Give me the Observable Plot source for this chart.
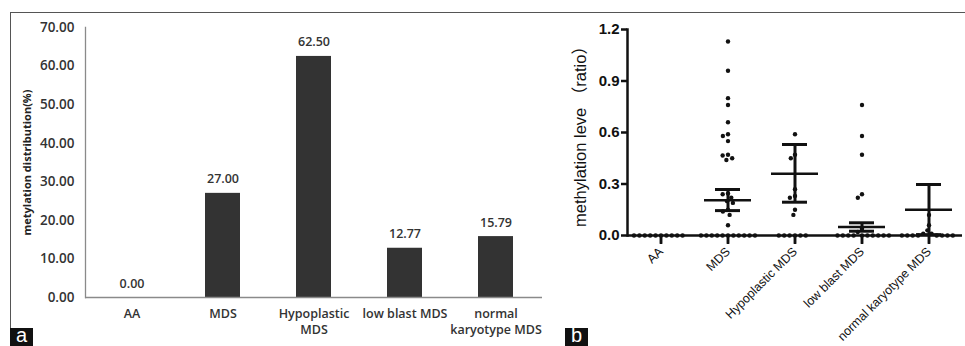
<!DOCTYPE html>
<html><head><meta charset="utf-8">
<script src="https://cdn.jsdelivr.net/npm/d3@7"></script>
<script src="https://cdn.jsdelivr.net/npm/@observablehq/plot@0.6"></script>
<style>
body{margin:0;background:#fff;}
#wrap{position:relative;width:965px;height:346px;overflow:hidden;background:#fff;}
#frame{position:absolute;left:10px;top:12px;width:960px;height:340px;border-top:1px solid #555;border-left:1px solid #555;}
#a,#b{position:absolute;top:0;}
#a{left:0}
#b{left:560px;width:405px;height:346px}
#b svg{position:absolute;left:0;top:0}
#b svg:last-child{z-index:2}
.tag{position:absolute;top:328px;width:23px;height:18px;background:#111;color:#fff;font:20px "Liberation Sans",Arial,sans-serif;line-height:15px;text-align:center;z-index:3;}
</style></head>
<body><div id="wrap"><div id="frame"></div><div id="a"></div><div id="b"></div><div class="tag" style="left:10px">a</div><div class="tag" style="left:565px">b</div></div>
<script>
// ---- Panel a data ----
const categoriesA = ["AA", "MDS", "Hypoplastic MDS", "low blast MDS", "normal karyotype MDS"];
const percentA = [0, 27.00, 62.50, 12.77, 15.79];
const tickLabelsA = ["AA", "MDS", "Hypoplastic\nMDS", "low blast MDS", "normal\nkaryotype MDS"];
const yTicksA = [0, 10, 20, 30, 40, 50, 60, 70];
const yLabelA = "metylation distribution(%)";

// ---- Panel b data ----
const categoriesB = ["AA", "MDS", "Hypoplastic MDS", "low blast MDS", "normal karyotype MDS"];
const valuesAA = [0, 0, 0, 0, 0, 0, 0, 0, 0, 0];
const valuesMDS = [1.13, 0.96, 0.80, 0.76, 0.66, 0.59, 0.58, 0.55, 0.47, 0.466, 0.45, 0.44,
  0.245, 0.24, 0.22, 0.20, 0.19, 0.15, 0.14, 0.12, 0.06, 0, 0, 0, 0, 0, 0, 0, 0, 0, 0, 0];
const valuesHypo = [0.59, 0.47, 0.45, 0.27, 0.23, 0.22, 0.15, 0.12, 0, 0, 0, 0, 0, 0];
const valuesLowBlast = [0.76, 0.58, 0.47, 0.24, 0.22, 0.04, 0.02, 0, 0, 0, 0, 0, 0, 0, 0, 0, 0];
const valuesNormalKaryo = [0.12, 0.06, 0.03, 0.01, 0.01, 0, 0, 0, 0, 0, 0, 0, 0];
const meanB = [0, 0.206, 0.359, 0.049, 0.150];
const upperB = [0, 0.268, 0.530, 0.074, 0.297];
const lowerB = [0, 0.145, 0.194, 0.025, 0.005];
const yTicksB = [0, 0.3, 0.6, 0.9, 1.2];
const yLabelB = "methylation leve （ratio）";

// ---- Panel a ----
const dataA = categoriesA.map((c, i) => ({cat: c, v: percentA[i]}));
const labA = new Map(categoriesA.map((c, i) => [c, tickLabelsA[i]]));
const plotA = Plot.plot({
  width: 560, height: 346,
  marginLeft: 85, marginRight: 18, marginTop: 27, marginBottom: 49,
  style: {fontFamily: "'Open Sans', sans-serif", color: "#333", background: "transparent", overflow: "visible"},
  x: {domain: categoriesA, paddingInner: 0.62, paddingOuter: 0.31, axis: null},
  y: {domain: [0, 70], axis: null},
  marks: [
    Plot.barY(dataA, {x: "cat", y: "v", fill: "#333"}),
    Plot.ruleY([0], {stroke: "#8a8a8a", strokeWidth: 1.3}),
    Plot.frame({anchor: "left", stroke: "#8a8a8a", strokeWidth: 1.3}),
    Plot.axisY({ticks: yTicksA, tickFormat: d3.format(".2f"), tickSize: 0, tickPadding: 11,
      fontSize: 13.5, fontWeight: 600, fill: "#333", label: null}),
    Plot.axisX({tickSize: 0, tickPadding: 9, tickFormat: d => labA.get(d),
      fontSize: 12.5, fontWeight: 600, lineHeight: 1.3, fill: "#333", label: null}),
    Plot.text(dataA, {x: "cat", y: "v", text: d => d3.format(".2f")(d.v), dy: -14,
      fontSize: 12.5, fontWeight: 600, fill: "#333"}),
    Plot.text([yLabelA], {frameAnchor: "left", textAnchor: "middle", rotate: -90, dx: -58,
      fontSize: 11, fontWeight: 700, fill: "#222"})
  ]
});
document.getElementById("a").append(plotA);

// ---- Panel b ----
const groupsB = [valuesAA, valuesMDS, valuesHypo, valuesLowBlast, valuesNormalKaryo];
const dataB = [];
categoriesB.forEach((c, i) => groupsB[i].forEach(v => dataB.push({cat: c, v})));
const allStatsB = categoriesB.map((c, i) => ({cat: c, mean: meanB[i], lo: lowerB[i], hi: upperB[i]}));
const statsB = allStatsB.filter(d => d.hi > 0);
const tickDepthB = -0.05; // category tick marks hang just below the zero line
const dimsB = {width: 405, height: 346, marginLeft: 65, marginRight: 2, marginTop: 29, marginBottom: 111};
const styleB = {fontFamily: "'Liberation Sans', Arial, sans-serif", color: "#111", background: "transparent", overflow: "visible"};

const plotB = Plot.plot({
  ...dimsB, style: styleB,
  fx: {domain: categoriesB, padding: 0, label: null, axis: null},
  y: {domain: [0, 1.2], axis: null},
  marks: [
    Plot.ruleY([0], {stroke: "#111", strokeWidth: 2.5}),
    Plot.frame({anchor: "left", facetAnchor: "left", stroke: "#111", strokeWidth: 2.5}),
    Plot.dot(dataB, Plot.dodgeX("middle", {fx: "cat", y: "v", r: 2.2, fill: "#111", stroke: null, padding: 0.3})),
    Plot.ruleX(statsB, {x: null, fx: "cat", y1: "lo", y2: "hi", stroke: "#111", strokeWidth: 3}),
    Plot.ruleY(statsB, {fx: "cat", y: "hi", insetLeft: 21, insetRight: 21, stroke: "#111", strokeWidth: 3}),
    Plot.ruleY(statsB, {fx: "cat", y: "lo", insetLeft: 21, insetRight: 21, stroke: "#111", strokeWidth: 3}),
    Plot.ruleY(statsB, {fx: "cat", y: "mean", insetLeft: 10, insetRight: 10, stroke: "#111", strokeWidth: 2.5}),
    Plot.axisY({ticks: yTicksB, tickFormat: d3.format(".1f"), tickSize: 6, tickPadding: 2, strokeWidth: 2.5,
      fontSize: 15, fontWeight: "bold", fill: "#111", label: null}),
    Plot.text([yLabelB], {frameAnchor: "left", facetAnchor: "left", textAnchor: "middle", rotate: -90, dx: -47,
      fontSize: 16.5, fill: "#111", fontFamily: "'Liberation Sans', 'Noto Sans CJK SC', sans-serif"})
  ]
});
document.getElementById("b").append(plotB);

// category axis (tick marks + rotated labels) drawn as an overlay with the same scales
const plotB2 = Plot.plot({
  ...dimsB, style: styleB,
  fx: {domain: categoriesB, padding: 0, label: null},
  y: {domain: [0, 1.2], axis: null},
  marks: [
    Plot.ruleX(allStatsB, {x: null, fx: "cat", y1: () => 0, y2: () => tickDepthB, stroke: "#111", strokeWidth: 2.5}),
    Plot.axisFx({anchor: "bottom", tickRotate: -45, tickSize: 9, tickPadding: 5, stroke: "#111", strokeWidth: 2.5,
      fontSize: 12.4, fill: "#111", label: null})
  ]
});
document.getElementById("b").append(plotB2);
</script>
</body></html>
